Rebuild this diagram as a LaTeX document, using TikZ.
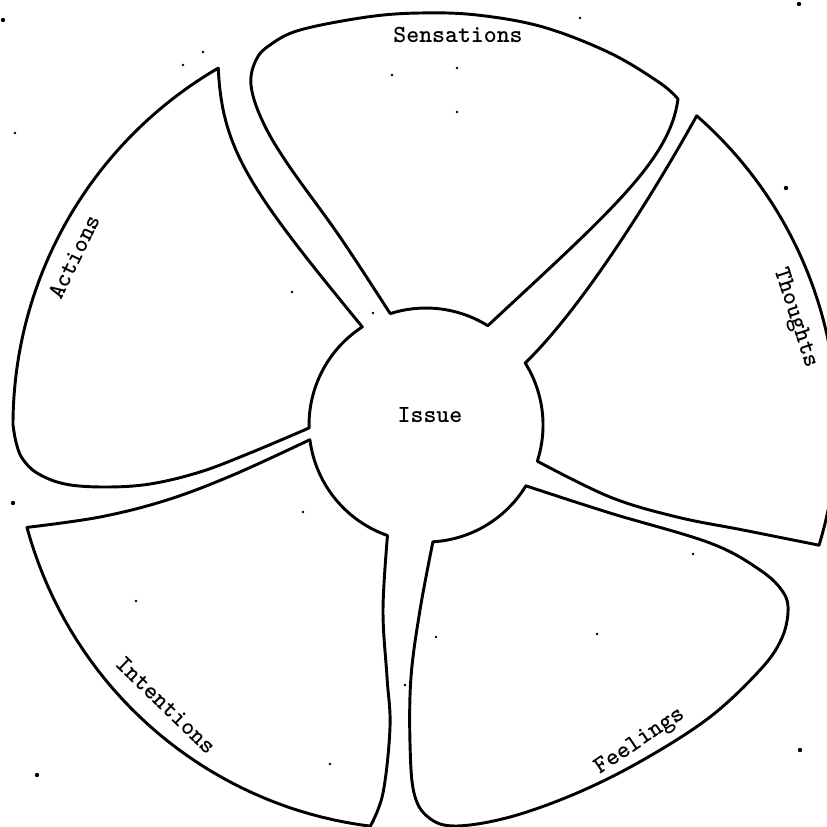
\documentclass[tikz,border=0pt]{standalone}
\usepackage{fontspec}
\newfontfamily\lbltt{lmmonolt10-bold.otf}
\usetikzlibrary{calc}
\begin{document}
\begin{tikzpicture}[x=0.03cm,y=-0.03cm,
  petal/.style={draw=black, line width=2.5pt, line join=round},
  lbl/.style={font=\fontsize{21}{25}\selectfont\lbltt, inner sep=0pt},
  speck/.style={fill=black}]
\useasboundingbox (0,0) rectangle (827,827);
\clip (0,0) rectangle (827,827);
\coordinate (c) at (426,425);

% Actions
\draw[petal] (309,428) -- plot[smooth,tension=0.6] coordinates {(309,428) (250,453) (200,472) (150,484) (105,487) (65,484) (37,473) (22,458) (16,442) (13,425)}
  arc[start angle=180, end angle=239.8, radius=413]
  .. controls (222,150) and (250,190) .. (362.3,326.9)
  arc[start angle=237, end angle=178.6, radius=117] -- cycle;

% Sensations
\draw[petal] (390.2,313.6) -- plot[smooth,tension=0.6] coordinates {(390.2,313.6) (340,237) (287,163) (262,120) (251,85) (256,60) (270,45) (300,30) (367,17) (420,13) (477,15) (543,27) (610,53) (660,83) (678,99)}
  .. controls (670,160) and (610,212) .. (487.8,325.7)
  arc[start angle=301.9, end angle=252.2, radius=117] -- cycle;

% Thoughts
\draw[petal] (525.2,363) .. controls (580,310) and (650,200) .. (696.7,115.8)
  arc[start angle=-48.8, end angle=17, radius=411]
  -- plot[smooth,tension=0.6] coordinates {(819,545.2) (743,530) (677,517) (610,497) (537.3,461.2)}
  arc[start angle=18, end angle=-32, radius=117] -- cycle;

% Feelings
\draw[petal] (525.9,485.8) -- plot[smooth,tension=0.6] coordinates {(525.9,485.8) (610,513) (710,543) (760,570) (783,592) (788,612) (781,640) (760,670) (710,717) (643,760) (577,793) (510,817) (455,826) (428,817) (414,793) (410,743) (411,677) (420,610) (432.9,541.8)}
  arc[start angle=86.6, end angle=31.3, radius=117] -- cycle;

% Intentions
\draw[petal] (309.9,439.7) -- plot[smooth,tension=0.6] coordinates {(309.9,439.7) (233,475) (167,500) (100,517) (26.9,527.4)}
  -- plot[domain=0:1, samples=40, variable=\t] ({426+(412-7*\t)*cos(165.6-67.7*\t)}, {425+(412-7*\t)*sin(165.6-67.7*\t)})
  -- plot[smooth,tension=0.6] coordinates {(370.3,826.2) (383,793) (390,727) (387,677) (383,610) (387.5,535.5)}
  arc[start angle=109.2, end angle=172.8, radius=117] -- cycle;

% labels
\node[lbl] (sens) at (458,35) {Sensations};
\node[lbl, rotate=-72] (thou) at (795,318) {Thoughts};
\node[lbl, rotate=34] (feel) at (640,742) {Feelings};
\node[lbl, rotate=-44] (inte) at (166,705) {Intentions};
\node[lbl, rotate=64] (acti) at (74,257) {Actions};
\node[lbl] (issue) at (430,415) {Issue};

% scan specks
\foreach \p in {(3,20),(799,4),(786,188),(800,750),(13,503),(37,775)}
  \fill[speck] \p circle[radius=2.2];
\foreach \p in {(203,52),(183,65),(392,75),(373,313),(292,292),(15,133),(457,68),(457,112),(580,18),(303,512),(136,601),(330,764),(405,685),(693,554),(597,634),(436,637)}
  \fill[speck] \p circle[radius=1.3];
\end{tikzpicture}
\end{document}
